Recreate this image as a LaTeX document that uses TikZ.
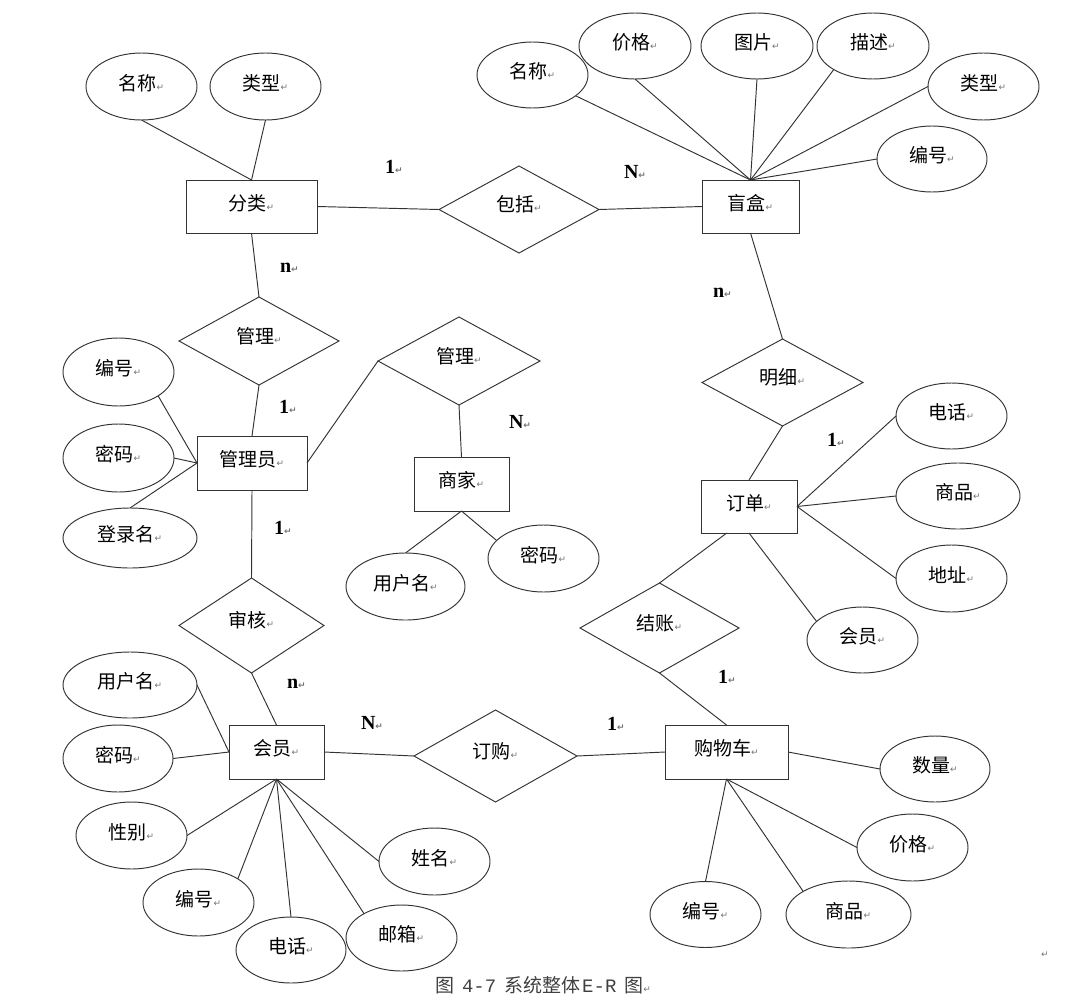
\documentclass[tikz,border=0pt]{standalone}
\usepackage{fontspec}
\usetikzlibrary{shapes.geometric}
\newfontfamily\cjk{Noto Sans CJK SC}
\newfontfamily\cardf{Liberation Serif}
\newfontfamily\monof{Liberation Mono}
\newfontfamily\symf{DejaVu Sans}
\newcommand\retmark{{\symf\fontsize{9}{9}\selectfont\color{black!55}↵}}
\begin{document}
\begin{tikzpicture}[x=1pt,y=-1pt,
  every node/.style={inner sep=0pt, outer sep=0pt},
  attr/.style={ellipse, draw=black!80, line width=0.95pt, minimum width=111pt, minimum height=67pt,
    font=\cjk\fontsize{19}{19}\selectfont, text height=14pt, text depth=7pt},
  ent/.style={rectangle, draw=black!80, line width=0.95pt, minimum height=54pt,
    font=\cjk\fontsize{19}{19}\selectfont, text height=14pt, text depth=7pt},
  rel/.style={diamond, draw=black!80, line width=0.95pt,
    font=\cjk\fontsize{19}{19}\selectfont, text height=14pt, text depth=10pt},
  card/.style={anchor=west, font=\cardf\bfseries\fontsize{20}{20}\selectfont},
  link/.style={draw=black!80, line width=0.95pt}]
\useasboundingbox (0,0) rectangle (1078,1001);

% ---------- entities ----------
\node[ent, minimum width=131pt, minimum height=53pt] (cls) at (251.5,206.5) {分类\retmark};
\node[ent, minimum width=97pt, minimum height=53pt] (box) at (750.5,206.5) {盲盒\retmark};
\node[ent, minimum width=110pt] (admin) at (252,463) {管理员\retmark};
\node[ent, minimum width=95pt] (merch) at (461.5,484) {商家\retmark};
\node[ent, minimum width=96pt, minimum height=53pt] (ord) at (749,506.5) {订单\retmark};
\node[ent, minimum width=95pt] (mem) at (276.5,752) {会员\retmark};
\node[ent, minimum width=123pt] (cart) at (726.5,752) {购物车\retmark};

% ---------- relationships ----------
\node[rel, minimum width=160pt, minimum height=87pt] (inc) at (519,209.5) {包括\retmark};
\node[rel, minimum width=160pt, minimum height=88pt] (mg1) at (259,341) {管理\retmark};
\node[rel, minimum width=162pt, minimum height=88pt] (mg2) at (459,361) {管理\retmark};
\node[rel, minimum width=161pt, minimum height=87pt] (mx) at (782.5,382.5) {明细\retmark};
\node[rel, minimum width=145pt, minimum height=95pt] (sh) at (251.5,625.5) {审核\retmark};
\node[rel, minimum width=163pt, minimum height=92pt] (dg) at (495.5,756) {订购\retmark};
\node[rel, minimum width=159pt, minimum height=90pt] (jz) at (659.5,628) {结账\retmark};

% ---------- attributes ----------
\node[attr] (cname) at (141.5,86.5) {名称\retmark};
\node[attr] (ctype) at (265.5,86.5) {类型\retmark};

\node[attr, minimum height=66pt] (bname) at (532.5,75) {名称\retmark};
\node[attr, minimum width=112pt, minimum height=66pt] (bprice) at (635,46) {价格\retmark};
\node[attr, minimum width=112pt, minimum height=66pt] (bpic) at (757,46) {图片\retmark};
\node[attr, minimum width=112pt, minimum height=66pt] (bdesc) at (873,46) {描述\retmark};
\node[attr] (btype) at (983.5,86.5) {类型\retmark};
\node[attr, minimum width=110pt, minimum height=66pt] (bid) at (932,159) {编号\retmark};

\node[attr, minimum height=68pt] (aid) at (118.5,372) {编号\retmark};
\node[attr, minimum height=68pt] (apw) at (118.5,458) {密码\retmark};
\node[attr, minimum width=134pt, minimum height=60pt] (alogin) at (130,538) {登录名\retmark};

\node[attr, minimum width=119pt] (muser) at (405.5,586.5) {用户名\retmark};
\node[attr] (mpw) at (543.5,558.5) {密码\retmark};

\node[attr, minimum height=66pt] (otel) at (951.5,416) {电话\retmark};
\node[attr, minimum width=124pt, minimum height=66pt] (ogoods) at (958,496) {商品\retmark};
\node[attr] (oaddr) at (951.5,578.5) {地址\retmark};
\node[attr, minimum height=66pt] (omem) at (862.5,640) {会员\retmark};

\node[attr, minimum width=134pt, minimum height=66pt] (uuser) at (130,685) {用户名\retmark};
\node[attr, minimum width=110pt] (upw) at (118,758.5) {密码\retmark};
\node[attr] (usex) at (131.5,835.5) {性别\retmark};
\node[attr] (uid) at (198.5,902.5) {编号\retmark};
\node[attr, minimum width=110pt, minimum height=66pt] (utel) at (291,950) {电话\retmark};
\node[attr, minimum height=66pt] (umail) at (401.5,938) {邮箱\retmark};
\node[attr] (uname) at (434.5,861.5) {姓名\retmark};

\node[attr, minimum width=110pt, minimum height=66pt] (scnt) at (935,769) {数量\retmark};
\node[attr] (sprice) at (912.5,847.5) {价格\retmark};
\node[attr, minimum width=125pt] (sgoods) at (848.5,914.5) {商品\retmark};
\node[attr, minimum height=66pt] (sid) at (705.5,914.5) {编号\retmark};

% ---------- attribute links ----------
\draw[link] (cname.south) -- (cls.north);
\draw[link] (ctype.south) -- (cls.north);

\draw[link] (bname) -- (box.north);
\draw[link] (bprice.south) -- (box.north);
\draw[link] (bpic.south) -- (box.north);
\draw[link] (bdesc.211) -- (box.north);
\draw[link] (btype.west) -- (box.north);
\draw[link] (bid.west) -- (box.north);

\draw[link] (aid.-31) -- (admin.west);
\draw[link] (apw.east) -- (admin.west);
\draw[link] (alogin.north) -- (admin.west);

\draw[link] (muser.north) -- (merch.south);
\draw[link] (mpw.159) -- (merch.south);

\draw[link] (otel.west) -- (ord.east);
\draw[link] (ogoods.west) -- (ord.east);
\draw[link] (oaddr.west) -- (ord.east);
\draw[link] (omem.158) -- (ord.south);

\draw[link] (uuser.east) -- (mem.west);
\draw[link] (upw.east) -- (mem.west);
\draw[link] (usex.east) -- (mem.south);
\draw[link] (uid.31) -- (mem.south);
\draw[link] (utel.north) -- (mem.south);
\draw[link] (umail.147) -- (mem.south);
\draw[link] (uname.west) -- (mem.south);

\draw[link] (scnt.west) -- (cart.east);
\draw[link] (sprice.west) -- (cart.south);
\draw[link] (sgoods.153) -- (cart.south);
\draw[link] (sid.north) -- (cart.south);

% ---------- relationship links ----------
\draw[link] (cls.east) -- (inc.west);
\draw[link] (inc.east) -- (box.west);
\draw[link] (cls.south) -- (mg1.north);
\draw[link] (mg1.south) -- (admin.north);
\draw[link] (admin.east) -- (mg2.west);
\draw[link] (mg2.south) -- (merch.north);
\draw[link] (box.south) -- (mx.north);
\draw[link] (mx.south) -- (ord.north);
\draw[link] (ord.-130) -- (jz.north);
\draw[link] (jz.south) -- (cart.north);
\draw[link] (admin.south) -- (sh.north);
\draw[link] (sh.south) -- (mem.north);
\draw[link] (mem.east) -- (dg.west);
\draw[link] (dg.east) -- (cart.west);

% ---------- cardinalities ----------
\node[card] (k1) at (385,167) {1\retmark};
\node[card] (k2) at (624,172) {N\retmark};
\node[card] (k3) at (280,268) {n\retmark};
\node[card] (k4) at (279,407) {1\retmark};
\node[card] (k5) at (274,528) {1\retmark};
\node[card] (k6) at (509,422) {N\retmark};
\node[card] (k7) at (713,293) {n\retmark};
\node[card] (k8) at (827,440) {1\retmark};
\node[card] (k9) at (718,677) {1\retmark};
\node[card] (k10) at (287,684) {n\retmark};
\node[card] (k11) at (361,723) {N\retmark};
\node[card] (k12) at (607,724) {1\retmark};

% ---------- caption ----------
\node[font=\cjk\fontsize{19}{19}\selectfont, text=black!75, anchor=west] (cap) at (435,985)
  {图\hspace{8pt}{\monof 4-7}\hspace{8pt}系统整体\hspace{2pt}{\monof E-R}\hspace{8pt}图\retmark};
\node (stray) at (1045,955) {\retmark};
\end{tikzpicture}
\end{document}
